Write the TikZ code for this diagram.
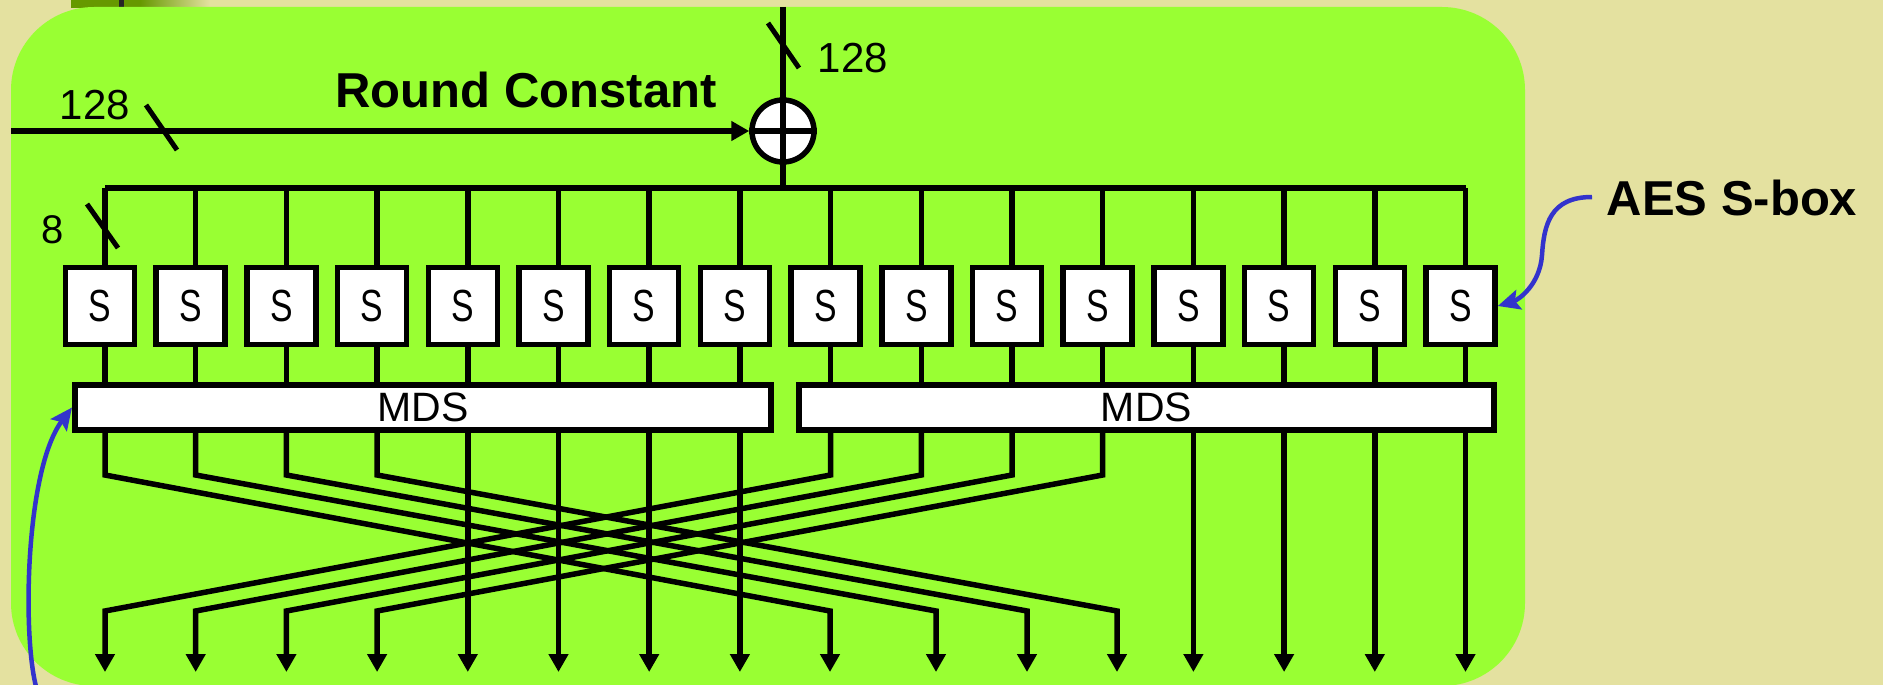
\documentclass[tikz,border=0pt]{standalone}
\usepackage{fontspec}
\setmainfont{Liberation Sans}
\usetikzlibrary{arrows.meta,calc}
\definecolor{bgbeige}{HTML}{E4E1A0}
\definecolor{panelgreen}{HTML}{99FF33}
\definecolor{darkolive}{HTML}{669900}
\definecolor{callblue}{HTML}{3333CC}

\begin{document}
\begin{tikzpicture}[x=1pt,y=-1pt,
  wire/.style={line width=5.5pt},
  sbox/.style={draw,line width=5.5pt,fill=white,minimum width=69pt,minimum height=77pt,
    inner sep=0pt,font=\fontsize{45}{45}\selectfont},
  mdsbox/.style={draw,line width=6pt,fill=white,minimum width=696pt,minimum height=45pt,
    inner sep=0pt,font=\fontsize{41}{41}\selectfont},
  slashmark/.style={line width=5pt},
  lbl/.style={font=\fontsize{42}{42}\selectfont,inner sep=0pt,anchor=base},
  headline/.style={font=\fontsize{49}{49}\selectfont\bfseries,inner sep=0pt,anchor=base},
  outarrow/.style={wire,-{Triangle[length=18pt,width=19pt]}},
  callout/.style={line width=4.5pt,callblue,-{Stealth[length=22pt,width=20pt,inset=4pt]}},
]
% canvas
\useasboundingbox (0,0) rectangle (1883,685);
\clip (0,0) rectangle (1883,685);
\fill[bgbeige] (0,0) rectangle (1883,685);
\fill[darkolive] (71,0) rectangle (140,8);
\shade[left color=darkolive,right color=bgbeige] (140,0) rectangle (210,8);
\fill[black!85] (119,0) rectangle (124,8);
\fill[panelgreen,rounded corners=83pt] (11,7) rectangle (1525,686);

% S-boxes and bus taps
\foreach \i in {0,...,15}{
  \node[sbox] (s\i) at ({100+90.7*\i},306) {\scalebox{0.75}[1]{S}};
  \coordinate (b\i) at ({105+90.7*\i},188);
}
% MDS layers
\node[mdsbox] (mdsL) at (423,407.5) {MDS};
\node[mdsbox,minimum width=695pt] (mdsR) at (1146.5,407.5) {MDS};

% state bus
\draw[wire] (b0) -- (b15);
\foreach \i in {0,...,15}{\draw[wire] (b\i) -- (b\i |- s\i.north);}
\foreach \i in {0,...,7}{\draw[wire] (b\i |- s\i.south) -- (b\i |- mdsL.north);}
\foreach \i in {8,...,15}{\draw[wire] (b\i |- s\i.south) -- (b\i |- mdsR.north);}

% round constant addition
\node[draw,circle,line width=5.5pt,fill=white,minimum size=62pt,inner sep=0pt] (xor) at (783,131) {};
\coordinate (rcTop) at (783,7);
\coordinate (bx) at (783,188);
\coordinate (rcIn) at (11,131);
\draw[wire] (rcTop) -- (bx);
\draw[wire] (xor.west) -- (xor.east);
\draw[wire,-{Triangle[length=18pt,width=19pt]}] (rcIn) -- (xor.west);

% width marks
\draw[slashmark] (146,105) -- (177,150);
\draw[slashmark] (768,23) -- (799,68);
\draw[slashmark] (87,204) -- (118,248);
\node[lbl] (w128a) at (95,119) {128};
\node[lbl] (w128b) at (853,73) {128};
\node[lbl,font=\fontsize{40}{40}\selectfont] (w8) at (53,243) {8};
\node[headline] (rc) at (526,107) {Round Constant};
\node[headline] (aes) at (1732,215) {AES S-box};

% outputs and byte permutation
\foreach \i in {0,...,7,12,13,14,15}{\coordinate (o\i) at ({105+90.7*\i},672);}
\coordinate (o8) at (830,672);
\coordinate (o9) at (936,672);
\coordinate (o10) at (1027,672);
\coordinate (o11) at (1117,672);
\foreach \i in {0,...,15}{\coordinate (kt\i) at ({105+90.7*\i},475);}
\foreach \i in {0,...,11}{\coordinate (kb\i) at ($(o\i)+(0,-61)$);}

\foreach \i in {4,...,7}{\draw[outarrow] (b\i |- mdsL.south) -- (o\i);}
\foreach \i in {12,...,15}{\draw[outarrow] (b\i |- mdsR.south) -- (o\i);}
\foreach \k [evaluate=\k as \j using int(\k+8)] in {0,...,3}{
  \draw[outarrow] (b\k |- mdsL.south) -- (kt\k) -- (kb\j) -- (o\j);
  \draw[outarrow] (b\j |- mdsR.south) -- (kt\j) -- (kb\k) -- (o\k);
}

% callouts
\coordinate (aesTail) at (1592,197);
\draw[callout] (aesTail) .. controls (1550,197) and (1544,225) .. (1542,255)
  .. controls (1540,285) and (1518,300) .. (s15.east);
\coordinate (mdsTail) at (37,690);
\draw[callout] (mdsTail) .. controls (22,640) and (25,470) .. (mdsL.west);
\end{tikzpicture}
\end{document}
